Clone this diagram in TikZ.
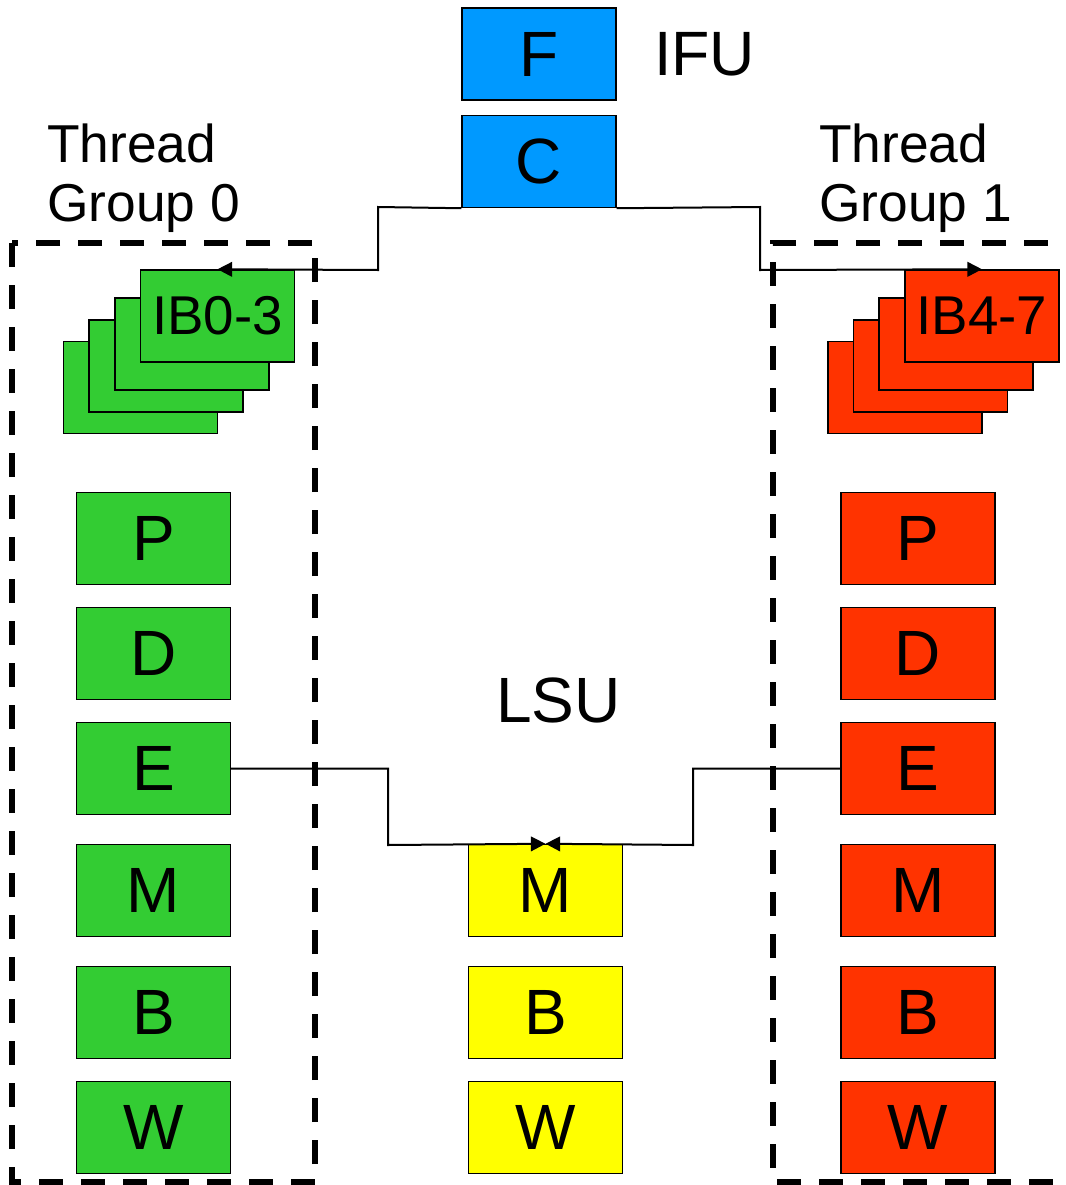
\documentclass[tikz,border=0pt]{standalone}
\usepackage{fontspec}
\setmainfont{Liberation Sans}
\usetikzlibrary{arrows.meta}
\definecolor{ifublue}{HTML}{0099FF}
\definecolor{tggreen}{HTML}{33CC33}
\definecolor{tgred}{HTML}{FF3300}
\definecolor{lsuyellow}{HTML}{FFFF00}
\begin{document}
\begin{tikzpicture}[x=0.75pt,y=-0.75pt,
  stage/.style={draw=black,line width=1.1pt,minimum width=115.5pt,minimum height=69pt,inner sep=0pt,
    font=\fontsize{48}{56}\selectfont},
  ibbox/.style={stage,font=\fontsize{41}{48}\selectfont},
  lbl/.style={inner sep=0pt,anchor=base west,font=\fontsize{40}{48}\selectfont},
  conn/.style={draw=black,line width=1.5pt},
  tip/.style={-{Triangle[length=11pt,width=11pt]}},
  group/.style={draw=black,line width=4pt,dash pattern=on 18pt off 13.5pt}]
\useasboundingbox (0,0) rectangle (1065,1185);
% IFU
\node[stage,fill=ifublue] (F) at (539,54) {F};
\node[stage,fill=ifublue] (C) at (539,161.5) {C};
\node[lbl,font=\fontsize{47}{56}\selectfont] (ifu) at (654,75) {IFU};
% labels
\node[lbl] (t0a) at (47,162) {Thread};
\node[lbl] (t0b) at (47,221) {Group 0};
\node[lbl] (t1a) at (819,162) {Thread};
\node[lbl] (t1b) at (819,221) {Group 1};
\node[lbl,font=\fontsize{48}{58}\selectfont] (lsu) at (496,722) {LSU};
% instruction buffers group 0
\node[ibbox,fill=tggreen] (ib0d) at (140.5,387.5) {};
\node[ibbox,fill=tggreen] (ib0c) at (166,366) {};
\node[ibbox,fill=tggreen] (ib0b) at (192,344) {};
\node[ibbox,fill=tggreen] (ib0) at (217.5,316) {IB0-3};
% instruction buffers group 1
\node[ibbox,fill=tgred] (ib1d) at (905,387.5) {};
\node[ibbox,fill=tgred] (ib1c) at (930.5,366) {};
\node[ibbox,fill=tgred] (ib1b) at (956,344) {};
\node[ibbox,fill=tgred] (ib1) at (982,316) {IB4-7};
% group 0 pipeline
\node[stage,fill=tggreen] (P0) at (153.5,538.5) {P};
\node[stage,fill=tggreen] (D0) at (153.5,653.5) {D};
\node[stage,fill=tggreen] (E0) at (153.5,768.5) {E};
\node[stage,fill=tggreen] (M0) at (153.5,890.5) {M};
\node[stage,fill=tggreen] (B0) at (153.5,1012.5) {B};
\node[stage,fill=tggreen] (W0) at (153.5,1127.5) {W};
% group 1 pipeline
\node[stage,fill=tgred] (P1) at (918,538.5) {P};
\node[stage,fill=tgred] (D1) at (918,653.5) {D};
\node[stage,fill=tgred] (E1) at (918,768.5) {E};
\node[stage,fill=tgred] (M1) at (918,890.5) {M};
\node[stage,fill=tgred] (B1) at (918,1012.5) {B};
\node[stage,fill=tgred] (W1) at (918,1127.5) {W};
% LSU pipeline
\node[stage,fill=lsuyellow] (ML) at (545.5,890.5) {M};
\node[stage,fill=lsuyellow] (BL) at (545.5,1012.5) {B};
\node[stage,fill=lsuyellow] (WL) at (545.5,1127.5) {W};
% connectors
\draw[conn,tip] (C.south west) -- (378,207) -- (378,270) -- (ib0.north);
\draw[conn,tip] (C.south east) -- (760,207) -- (760,270) -- (ib1.north);
\draw[conn,tip] (E0.east) -- (388,768.5) -- (388,845) -- (ML.north);
\draw[conn,tip] (E1.west) -- (693,768.5) -- (693,845) -- (ML.north);
% thread group boundaries
\draw[group] (12,243) rectangle (315,1182);
\draw[group] (1090,243) -- (773,243) -- (773,1182) -- (1090,1182);
\end{tikzpicture}
\end{document}
